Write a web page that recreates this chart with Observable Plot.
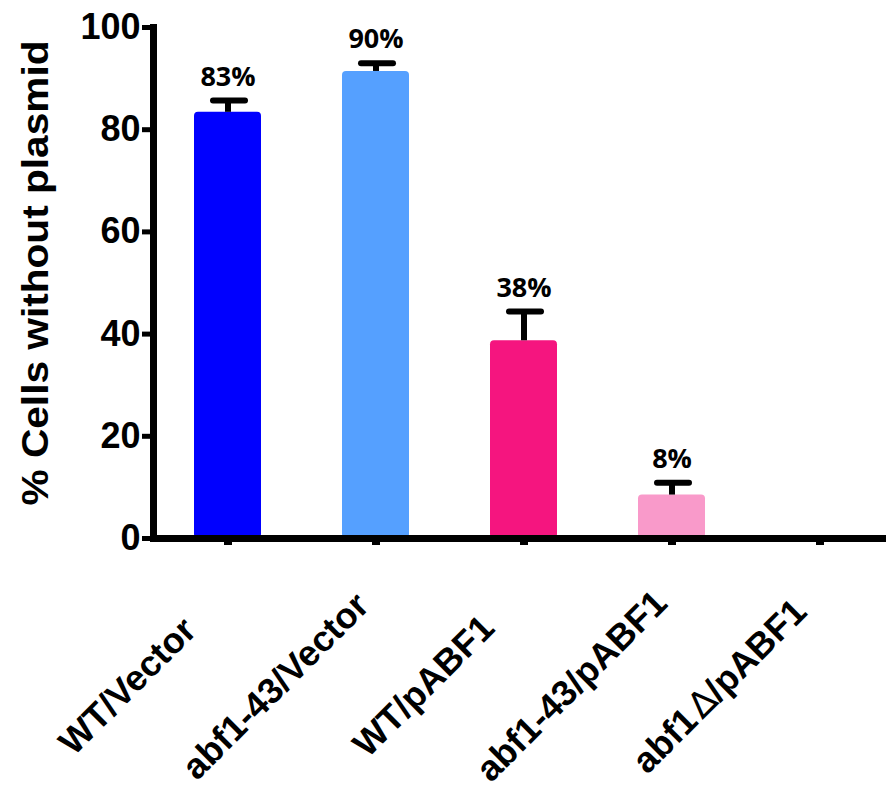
<!DOCTYPE html>
<html>
<head>
<meta charset="utf-8">
<script src="https://cdn.jsdelivr.net/npm/d3@7"></script>
<script src="https://cdn.jsdelivr.net/npm/@observablehq/plot@0.6"></script>
<style>
  html, body { margin: 0; padding: 0; background: #fff; }
  #chart svg { display: block; }
</style>
</head>
<body>
<div id="chart"></div>
<script>
const categories = ["WT/Vector", "abf1-43/Vector", "WT/pABF1", "abf1-43/pABF1", "abf1\u2206/pABF1"];
const means = [83.4, 91.4, 38.7, 8.5, 0];
const errorTops = [85.7, 93.0, 44.4, 10.9, 0];
const valueLabels = ["83%", "90%", "38%", "8%", ""];
const barColors = ["#0000FF", "#55A0FF", "#F5157F", "#F99ACA", "#FFFFFF"];
const yTicks = [0, 20, 40, 60, 80, 100];
const yTitle = "% Cells without plasmid";

const data = categories.map((c, i) => ({
  cat: c, mean: means[i], err: errorTops[i], label: valueLabels[i], color: barColors[i]
}));
const withErr = data.filter(d => d.err > 0);

const sans = "'Liberation Sans', Arial, sans-serif";

const chart = Plot.plot({
  width: 886,
  height: 803,
  marginLeft: 153,
  marginRight: 0,
  marginTop: 27,
  marginBottom: 265,
  style: { background: "#fff", overflow: "visible" },
  x: { domain: categories, range: [153, 893], paddingInner: 0.55, paddingOuter: 0.275, axis: null },
  y: { domain: [0, 100], axis: null },
  color: { type: "identity" },
  marks: [
    Plot.barY(withErr, { x: "cat", y: "mean", fill: "color", rx: 4 }),
    Plot.ruleX(withErr, { x: "cat", y1: "mean", y2: "err", stroke: "#000", strokeWidth: 6 }),
    Plot.tickY(withErr, { x: "cat", y: "err", stroke: "#000", strokeWidth: 6, strokeLinecap: "round", insetLeft: 19, insetRight: 16 }),
    Plot.text(withErr, { x: "cat", y: "err", text: "label", dy: -15, lineAnchor: "bottom",
      fontSize: 27, fontWeight: "bold", fontFamily: "'Open Sans', sans-serif", fill: "#000" }),
    // major y ticks + labels
    Plot.axisY({ ticks: yTicks, tickSize: 11, tickPadding: 2, strokeWidth: 5, stroke: "#000",
      fontSize: 36, fontWeight: "bold", fontFamily: sans, label: null, tickFormat: d => String(d) }),
    // major x ticks (no labels)
    Plot.axisX({ tickSize: 7, strokeWidth: 8, stroke: "#000", tickFormat: null, label: null }),
    // thick axis lines with fine separators
    Plot.frame({ anchor: "left", stroke: "#000", strokeWidth: 7, strokeLinecap: "square", strokeDasharray: "9.2 1" }),
    Plot.frame({ anchor: "bottom", stroke: "#000", strokeWidth: 7, strokeLinecap: "square", strokeDasharray: "7.4 1" }),
    // rotated category labels
    Plot.text(categories, { x: d => d, frameAnchor: "bottom", rotate: -45, dx: -92, dy: 156,
      textAnchor: "middle", fontSize: 36, fontWeight: "bold", fontFamily: sans, fill: "#000" }),
    // y title
    Plot.text([yTitle], { frameAnchor: "left", rotate: -90, dx: -117, dy: -10, textAnchor: "middle",
      fontSize: 36, fontWeight: "bold", fontFamily: sans, fill: "#000" })
  ]
});

document.getElementById("chart").appendChild(chart);

// stretch the y title to the reference length
d3.select(chart).selectAll("text").filter(function () { return this.textContent === yTitle; })
  .attr("textLength", 465).attr("lengthAdjust", "spacingAndGlyphs");

// thin outline delta in the last category label
d3.select(chart).selectAll("text").filter(function () { return this.textContent === categories[4]; })
  .each(function () {
    const t = d3.select(this);
    const parts = categories[4].split("\u2206");
    t.text(null);
    t.append("tspan").text(parts[0]);
    t.append("tspan").attr("font-weight", "normal").attr("font-family", "'DejaVu Sans', sans-serif").attr("dx", 4).text("\u2206");
    t.append("tspan").text(parts[1]);
  });
</script>
</body>
</html>
